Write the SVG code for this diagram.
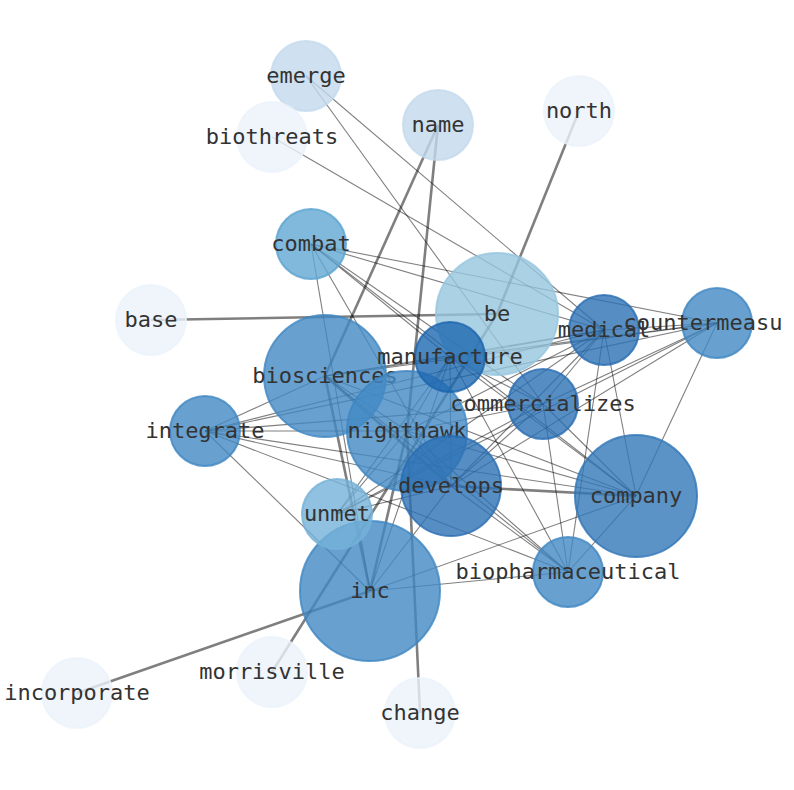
<svg xmlns="http://www.w3.org/2000/svg" width="794" height="790" viewBox="0 0 794 790">
<style>
.e{stroke:#000;stroke-opacity:0.5;stroke-width:1.1;fill:none}
.t{stroke:#000;stroke-opacity:0.5;stroke-width:2.6;fill:none}
circle{fill-opacity:0.8;stroke-opacity:0.8;stroke-width:2}
text{font-family:"DejaVu Sans Mono","Liberation Mono",monospace;font-size:22px;fill:#333;text-anchor:middle}
.c0{fill:#ebf2fa;stroke:#ebf2fa}
.c1{fill:#c3d9ec;stroke:#c3d9ec}
.c2{fill:#96c5df;stroke:#96c5df}
.c3{fill:#74b1d8;stroke:#74b1d8}
.c4{fill:#60a7d3;stroke:#5aa2d0}
.c5{fill:#428ac4;stroke:#3d86c2}
.c6{fill:#3278b8;stroke:#2e74b6}
.c7{fill:#2c70b4;stroke:#286cb2}
.c8{fill:#1d68b0;stroke:#1a64ad}
</style>
<rect width="794" height="790" fill="#fff"/>
<g id="edges">
<line class="e" x1="306" y1="76" x2="543" y2="404"/>
<line class="e" x1="306" y1="76" x2="604" y2="330"/>
<line class="e" x1="272" y1="137" x2="604" y2="330"/>
<line class="t" x1="438" y1="125" x2="325" y2="376"/>
<line class="t" x1="438" y1="125" x2="407" y2="431"/>
<line class="t" x1="579" y1="111" x2="497" y2="314"/>
<line class="t" x1="151" y1="320" x2="497" y2="314"/>
<line class="t" x1="272" y1="672" x2="497" y2="314"/>
<line class="t" x1="77" y1="693" x2="370" y2="591"/>
<line class="t" x1="420" y1="713" x2="407" y2="431"/>
<line class="e" x1="311" y1="244" x2="717" y2="323"/>
<line class="e" x1="311" y1="244" x2="604" y2="330"/>
<line class="e" x1="311" y1="244" x2="450" y2="357"/>
<line class="e" x1="311" y1="244" x2="543" y2="404"/>
<line class="e" x1="311" y1="244" x2="636" y2="496"/>
<line class="e" x1="311" y1="244" x2="451" y2="486"/>
<line class="e" x1="717" y1="323" x2="604" y2="330"/>
<line class="e" x1="717" y1="323" x2="543" y2="404"/>
<line class="e" x1="717" y1="323" x2="451" y2="486"/>
<line class="e" x1="717" y1="323" x2="636" y2="496"/>
<line class="e" x1="717" y1="323" x2="450" y2="357"/>
<line class="e" x1="717" y1="323" x2="325" y2="376"/>
<line class="e" x1="717" y1="323" x2="337" y2="514"/>
<line class="e" x1="717" y1="323" x2="205" y2="431"/>
<line class="e" x1="604" y1="330" x2="450" y2="357"/>
<line class="e" x1="604" y1="330" x2="543" y2="404"/>
<line class="e" x1="604" y1="330" x2="451" y2="486"/>
<line class="e" x1="604" y1="330" x2="636" y2="496"/>
<line class="e" x1="604" y1="330" x2="568" y2="572"/>
<line class="e" x1="604" y1="330" x2="325" y2="376"/>
<line class="e" x1="604" y1="330" x2="407" y2="431"/>
<line class="e" x1="604" y1="330" x2="205" y2="431"/>
<line class="e" x1="604" y1="330" x2="337" y2="514"/>
<line class="e" x1="450" y1="357" x2="325" y2="376"/>
<line class="e" x1="450" y1="357" x2="407" y2="431"/>
<line class="e" x1="450" y1="357" x2="451" y2="486"/>
<line class="e" x1="450" y1="357" x2="636" y2="496"/>
<line class="e" x1="450" y1="357" x2="568" y2="572"/>
<line class="e" x1="450" y1="357" x2="370" y2="591"/>
<line class="e" x1="450" y1="357" x2="543" y2="404"/>
<line class="e" x1="450" y1="357" x2="337" y2="514"/>
<line class="e" x1="325" y1="376" x2="407" y2="431"/>
<line class="t" x1="325" y1="376" x2="451" y2="486"/>
<line class="e" x1="325" y1="376" x2="568" y2="572"/>
<line class="t" x1="325" y1="376" x2="370" y2="591"/>
<line class="e" x1="325" y1="376" x2="636" y2="496"/>
<line class="e" x1="325" y1="376" x2="205" y2="431"/>
<line class="e" x1="543" y1="404" x2="451" y2="486"/>
<line class="e" x1="543" y1="404" x2="636" y2="496"/>
<line class="e" x1="543" y1="404" x2="568" y2="572"/>
<line class="e" x1="543" y1="404" x2="407" y2="431"/>
<line class="e" x1="543" y1="404" x2="337" y2="514"/>
<line class="e" x1="205" y1="431" x2="407" y2="431"/>
<line class="e" x1="205" y1="431" x2="451" y2="486"/>
<line class="e" x1="205" y1="431" x2="636" y2="496"/>
<line class="e" x1="205" y1="431" x2="568" y2="572"/>
<line class="e" x1="205" y1="431" x2="370" y2="591"/>
<line class="e" x1="205" y1="431" x2="543" y2="404"/>
<line class="e" x1="407" y1="431" x2="451" y2="486"/>
<line class="e" x1="407" y1="431" x2="636" y2="496"/>
<line class="e" x1="407" y1="431" x2="568" y2="572"/>
<line class="t" x1="407" y1="431" x2="370" y2="591"/>
<line class="e" x1="407" y1="431" x2="337" y2="514"/>
<line class="t" x1="451" y1="486" x2="636" y2="496"/>
<line class="e" x1="451" y1="486" x2="568" y2="572"/>
<line class="e" x1="451" y1="486" x2="370" y2="591"/>
<line class="e" x1="451" y1="486" x2="337" y2="514"/>
<line class="e" x1="636" y1="496" x2="568" y2="572"/>
<line class="e" x1="636" y1="496" x2="370" y2="591"/>
<line class="e" x1="568" y1="572" x2="370" y2="591"/>
<line class="e" x1="311" y1="244" x2="370" y2="591"/>
</g>
<g id="be"><circle class="c2" cx="497" cy="314" r="61"/><text x="497" y="321">be</text></g>
<g id="biosciences"><circle class="c5" cx="325" cy="376" r="61"/><text x="325" y="383">biosciences</text></g>
<g id="nighthawk"><circle class="c5" cx="407" cy="431" r="60"/><text x="407" y="438">nighthawk</text></g>
<g id="inc"><circle class="c5" cx="370" cy="591" r="70"/><text x="370" y="598">inc</text></g>
<g id="unmet"><circle class="c3" cx="337" cy="514" r="35"/><text x="337" y="521">unmet</text></g>
<g id="develops"><circle class="c7" cx="451" cy="486" r="50"/><text x="451" y="493">develops</text></g>
<g id="manufacture"><circle class="c8" cx="450" cy="357" r="35"/><text x="450" y="364">manufacture</text></g>
<g id="commercializes"><circle class="c7" cx="543" cy="404" r="35"/><text x="543" y="411">commercializes</text></g>
<g id="medical"><circle class="c7" cx="604" cy="330" r="35"/><text x="604" y="337">medical</text></g>
<g id="countermeasu"><circle class="c5" cx="717" cy="323" r="35"/><text x="703" y="330">countermeasu</text></g>
<g id="company"><circle class="c6" cx="636" cy="496" r="61"/><text x="636" y="503">company</text></g>
<g id="biopharmaceutical"><circle class="c5" cx="568" cy="572" r="35"/><text x="568" y="579">biopharmaceutical</text></g>
<g id="integrate"><circle class="c5" cx="205" cy="431" r="35"/><text x="205" y="438">integrate</text></g>
<g id="combat"><circle class="c4" cx="311" cy="244" r="35"/><text x="311" y="251">combat</text></g>
<g id="emerge"><circle class="c1" cx="306" cy="76" r="35"/><text x="306" y="83">emerge</text></g>
<g id="name"><circle class="c1" cx="438" cy="125" r="35"/><text x="438" y="132">name</text></g>
<g id="biothreats"><circle class="c0" cx="272" cy="137" r="35"/><text x="272" y="144">biothreats</text></g>
<g id="north"><circle class="c0" cx="579" cy="111" r="35"/><text x="579" y="118">north</text></g>
<g id="base"><circle class="c0" cx="151" cy="320" r="35"/><text x="151" y="327">base</text></g>
<g id="morrisville"><circle class="c0" cx="272" cy="672" r="35"/><text x="272" y="679">morrisville</text></g>
<g id="incorporate"><circle class="c0" cx="77" cy="693" r="35"/><text x="77" y="700">incorporate</text></g>
<g id="change"><circle class="c0" cx="420" cy="713" r="35"/><text x="420" y="720">change</text></g>
</svg>
